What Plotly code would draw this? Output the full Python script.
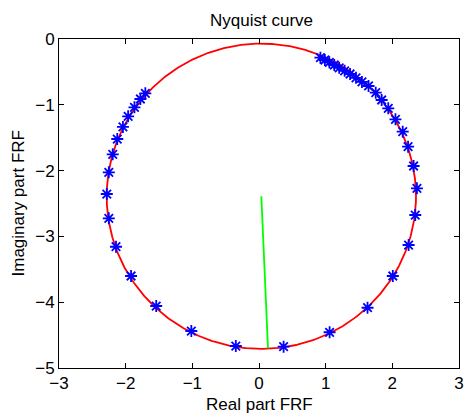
import numpy as np
import plotly.graph_objects as go

# Measured FRF points (real, imaginary), in frequency order
frf_real = [-1.705, -1.779, -1.868, -1.963, -2.041, -2.126, -2.194, -2.253,
            -2.283, -2.253, -2.145, -1.919, -1.542, -1.015, -0.348,
            0.369, 1.059, 1.628, 2.007, 2.244, 2.344, 2.369, 2.319, 2.236,
            2.156, 2.047, 1.939, 1.840, 1.751, 1.643, 1.544, 1.455, 1.366,
            1.284, 1.203, 1.129, 1.055, 0.988, 0.921]
frf_imag = [-0.825, -0.912, -1.038, -1.175, -1.337, -1.520, -1.752, -2.026,
            -2.356, -2.725, -3.157, -3.602, -4.058, -4.438, -4.666,
            -4.676, -4.457, -4.084, -3.602, -3.131, -2.675, -2.269, -1.930, -1.637,
            -1.409, -1.220, -1.053, -0.927, -0.816, -0.714, -0.653, -0.590, -0.532,
            -0.483, -0.438, -0.395, -0.354, -0.319, -0.284]

# Fitted modal circle
circle_center = (0.035, -2.39)
circle_radius = 2.32

# Diameter marker from circle centre to the resonance point
res_real = [0.035, 0.135]
res_imag = [-2.39, -4.70]

x_ticks = [-3, -2, -1, 0, 1, 2, 3]
y_ticks = [-5, -4, -3, -2, -1, 0]

theta = np.linspace(0, 2 * np.pi, 721)
circ_x = circle_center[0] + circle_radius * np.cos(theta)
circ_y = circle_center[1] + circle_radius * np.sin(theta)

font = dict(family="Liberation Sans, Arial, sans-serif", size=17, color="black")

fig = go.Figure()
fig.add_trace(go.Scatter(x=circ_x, y=circ_y, mode="lines",
                         line=dict(color="#ff0000", width=1.8),
                         hoverinfo="skip"))
fig.add_trace(go.Scatter(x=frf_real, y=frf_imag, mode="markers",
                         marker=dict(symbol="asterisk-open", size=10,
                                     color="#0000ff",
                                     line=dict(color="#0000ff", width=1.8))))
fig.add_trace(go.Scatter(x=res_real, y=res_imag, mode="lines",
                         line=dict(color="#00ff00", width=1.8)))

axis_common = dict(showgrid=False, zeroline=False, showline=True,
                   linecolor="black", linewidth=1, mirror="allticks",
                   ticks="inside", ticklen=5, tickcolor="black", tickwidth=1,
                   tickfont=font, ticklabeloverflow="allow")

fig.update_layout(
    width=467, height=414,
    margin=dict(l=59, r=3, t=39, b=46),
    paper_bgcolor="white", plot_bgcolor="white",
    showlegend=False,
    font=font,
    title=dict(text="Nyquist curve", x=0.56, xref="container",
               xanchor="center", y=1 - 20 / 414, yref="container",
               yanchor="middle", font=font),
    xaxis=dict(range=[-3, 3], tickvals=x_ticks, **axis_common),
    yaxis=dict(range=[-5, 0], tickvals=y_ticks, **axis_common),
    annotations=[
        # Axis titles positioned in pixels relative to the plot area
        dict(text="Real part FRF", x=0.5, xref="paper", y=0, yref="paper",
             yanchor="middle", yshift=-(404 - 368), showarrow=False, font=font),
        dict(text="Imaginary part FRF", textangle=-90, x=0, xref="paper",
             xanchor="center", xshift=-(59 - 18), y=0.5, yref="paper",
             showarrow=False, font=font),
    ],
)

fig.write_html("out.html")
